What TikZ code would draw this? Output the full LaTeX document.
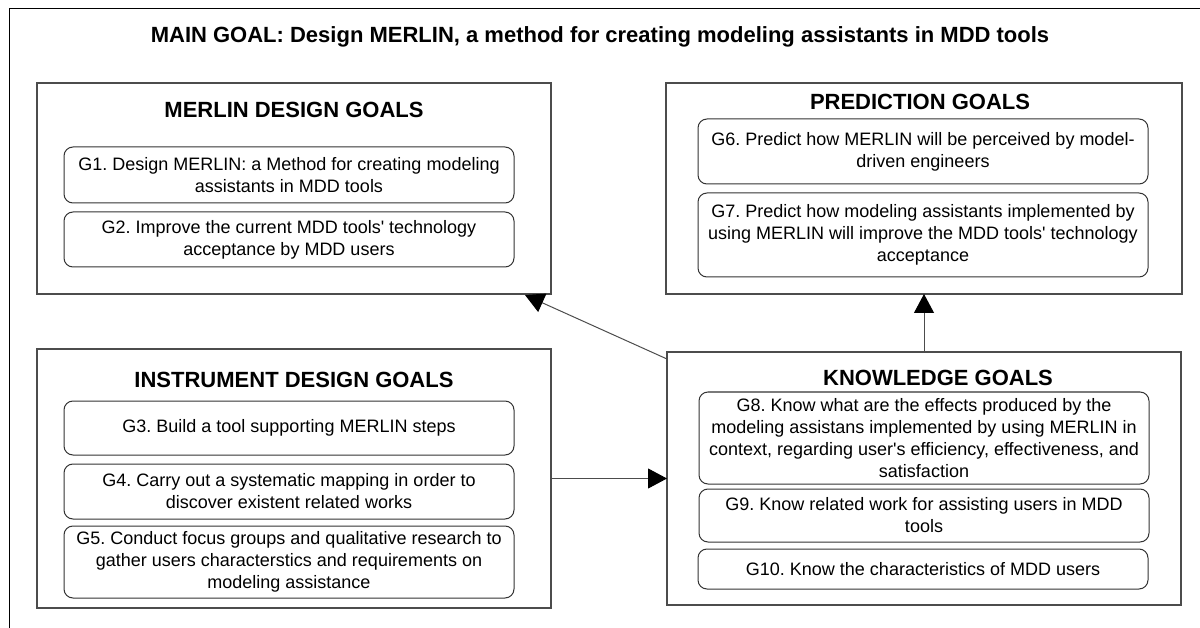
\documentclass[tikz,border=0pt]{standalone}
\usepackage{fontspec}
\setmainfont{Liberation Sans}
\usetikzlibrary{arrows.meta,calc}
\frenchspacing
\begin{document}
\begin{tikzpicture}[x=1pt,y=-1pt,
  group/.style={draw=black!70, line width=1.2pt, inner sep=0pt, outer sep=0pt},
  goal/.style={draw=black!80, line width=1pt, rounded corners=9pt, inner sep=0pt, outer sep=0pt, align=center, font=\frenchspacing\fontsize{18}{22}\selectfont},
  gtitle/.style={font=\bfseries\fontsize{22}{26}\selectfont, inner sep=0pt},
  link/.style={draw=black!70, line width=1pt, -{Triangle[length=19pt,width=20pt,color=black]}}]
\useasboundingbox (0,0) rectangle (1200,628);
\draw[black, line width=1pt] (9,9) rectangle (1215,645);
\node[font=\frenchspacing\bfseries\fontsize{22}{26}\selectfont, inner sep=0pt] (main) at (600,37) {MAIN GOAL: Design MERLIN, a method for creating modeling assistants in MDD tools};
% group boxes
\node[group, minimum width=514pt, minimum height=211pt] (merlin) at (294,188.5) {};
\node[group, minimum width=516pt, minimum height=211pt] (pred) at (924,188.5) {};
\node[group, minimum width=514pt, minimum height=259pt] (instr) at (294,478.5) {};
\node[group, minimum width=514pt, minimum height=253pt] (know) at (924,478.5) {};
% titles
\node[gtitle] (tmerlin) at (294,110) {MERLIN DESIGN GOALS};
\node[gtitle] (tinstr) at (294,380) {INSTRUMENT DESIGN GOALS};
\node[gtitle] (tpred) at (920,102) {PREDICTION GOALS};
\node[gtitle] (tknow) at (938,378) {KNOWLEDGE GOALS};
% goals
\node[goal, minimum width=450pt, minimum height=56pt] (g1) at (289,175) {G1. Design MERLIN: a Method for creating modeling\\assistants in MDD tools};
\node[goal, minimum width=450pt, minimum height=55pt] (g2) at (289,239.5) {G2. Improve the current MDD tools\textquotesingle\ technology\\acceptance by MDD users};
\node[goal, minimum width=450pt, minimum height=54pt] (g3) at (289,428) {G3. Build a tool supporting MERLIN steps};
\node[goal, minimum width=450pt, minimum height=55pt] (g4) at (289,491.5) {G4. Carry out a systematic mapping in order to\\discover existent related works};
\node[goal, minimum width=450pt, minimum height=72pt] (g5) at (289,562) {G5. Conduct focus groups and qualitative research to\\gather users characterstics and requirements on\\modeling assistance};
\node[goal, minimum width=450pt, minimum height=65pt] (g6) at (923,151.5) {G6. Predict how MERLIN will be perceived by model-\\driven engineers};
\node[goal, minimum width=450pt, minimum height=84pt] (g7) at (923,235) {G7. Predict how modeling assistants implemented by\\using MERLIN will improve the MDD tools\textquotesingle\ technology\\acceptance};
\node[goal, minimum width=450pt, minimum height=92pt] (g8) at (924,438) {G8. Know what are the effects produced by the\\modeling assistans implemented by using MERLIN in\\context, regarding user\textquotesingle s efficiency, effectiveness, and\\satisfaction};
\node[goal, minimum width=450pt, minimum height=53pt] (g9) at (924,515.5) {G9. Know related work for assisting users in MDD\\tools};
\node[goal, minimum width=450pt, minimum height=40pt] (g10) at (923,569) {G10. Know the characteristics of MDD users};
% connectors
\coordinate (a1s) at ($(know.north west)+(0,7)$);
\coordinate (a1e) at ($(merlin.south east)+(-26,1)$);
\draw[link] (a1s) -- (a1e);
\draw[link] (know.north) -- (pred.south);
\draw[link] (instr.east) -- (know.west);
\end{tikzpicture}
\end{document}
